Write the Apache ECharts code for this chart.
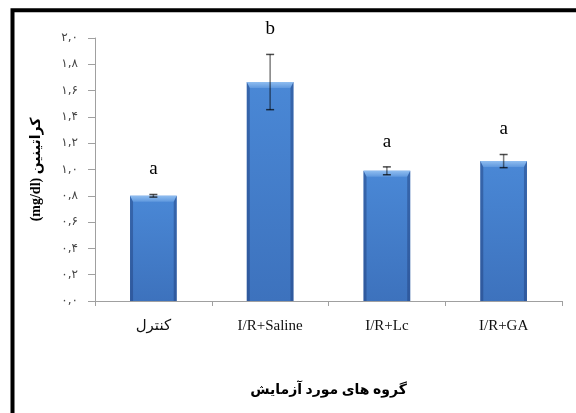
<!DOCTYPE html>
<html>
<head>
<meta charset="utf-8">
<script src="https://cdn.jsdelivr.net/npm/echarts@6/dist/echarts.min.js"></script>
<style>
html,body{margin:0;padding:0;background:#fff;}
#c{width:576px;height:413px;}
</style>
</head>
<body>
<div id="c"></div>
<script>
const categories = ["کنترل", "I/R+Saline", "I/R+Lc", "I/R+GA"];
const values = [0.80, 1.665, 0.99, 1.064];
const errors = [0.01, 0.21, 0.03, 0.05];
const letters = ["a", "b", "a", "a"];
const yTickLabels = ["۰,۰", "۰,۲", "۰,۴", "۰,۶", "۰,۸", "۱,۰", "۱,۲", "۱,۴", "۱,۶", "۱,۸", "۲,۰"];
const yAxisTitle = "(mg/dl) کراتینین";
const xAxisTitle = "گروه های مورد آزمایش";

const chart = echarts.init(document.getElementById('c'));
const serif = "'Liberation Serif', 'Times New Roman', 'DejaVu Serif', 'DejaVu Sans', serif";

const overlayData = values.map((v, i) => [i, v, errors[i]]);

chart.setOption({
  animation: false,
  backgroundColor: '#fff',
  grid: { left: 95, right: 14, top: 38, bottom: 112, containLabel: false },
  graphic: [{
    type: 'rect',
    shape: { x: 12.5, y: 10.3, width: 700, height: 600 },
    style: { fill: 'none', stroke: '#000', lineWidth: 4 },
    z: 100
  }],
  xAxis: {
    type: 'category',
    data: categories,
    name: xAxisTitle,
    nameLocation: 'middle',
    nameGap: 82,
    nameTextStyle: { fontFamily: serif, fontWeight: 'bold', fontSize: 14, color: '#000' },
    axisLine: { lineStyle: { color: '#a0a0a0', width: 1 } },
    axisTick: { show: true, length: 5, lineStyle: { color: '#a0a0a0' } },
    axisLabel: { fontFamily: serif, fontSize: 15, color: '#111', margin: 18 },
    splitLine: { show: false }
  },
  yAxis: {
    type: 'value',
    min: 0, max: 2, interval: 0.2,
    name: yAxisTitle,
    nameLocation: 'middle',
    nameRotate: 90,
    nameGap: 52,
    nameTextStyle: { fontFamily: serif, fontWeight: 'bold', fontSize: 14, color: '#000' },
    axisLine: { show: true, lineStyle: { color: '#a0a0a0', width: 1 } },
    axisTick: { show: true, length: 7, inside: false, lineStyle: { color: '#a0a0a0' } },
    axisLabel: {
      fontFamily: "'DejaVu Sans', sans-serif", fontSize: 12, color: '#444', margin: 17,
      formatter: function (v) { return yTickLabels[Math.round(v / 0.2)]; }
    },
    splitLine: { show: false }
  },
  series: [
    {
      type: 'bar',
      data: values,
      barWidth: '40%',
      itemStyle: {
        color: new echarts.graphic.LinearGradient(0, 0, 0, 1, [
          { offset: 0, color: '#4a88d6' },
          { offset: 1, color: '#3d72bd' }
        ])
      },
      z: 2
    },
    {
      type: 'custom',
      data: overlayData,
      z: 5,
      renderItem: function (params, api) {
        const idx = api.value(0), v = api.value(1), e = api.value(2);
        const top = api.coord([idx, v]);
        const base = api.coord([idx, 0]);
        const w = api.size([1, 0])[0] * 0.4;
        const x0 = top[0] - w / 2, x1 = top[0] + w / 2;
        const yT = top[1], yB = base[1];
        const hi = api.coord([idx, v + e]);
        const lo = api.coord([idx, v - e]);
        const cap = 4;
        const s = 3, b = 6;
        return {
          type: 'group',
          children: [
            { type: 'polygon', shape: { points: [[x0, yT], [x1, yT], [x1 - s, yT + b], [x0 + s, yT + b]] },
              style: { fill: new echarts.graphic.LinearGradient(0, 0, 0, 1, [
                { offset: 0, color: '#8fbdf0' }, { offset: 1, color: '#5f98de' }]) } },
            { type: 'polygon', shape: { points: [[x0, yT], [x0 + s, yT + b], [x0 + s, yB], [x0, yB]] },
              style: { fill: 'rgba(30,60,120,0.45)' } },
            { type: 'polygon', shape: { points: [[x1, yT], [x1 - s, yT + b], [x1 - s, yB], [x1, yB]] },
              style: { fill: 'rgba(30,60,120,0.45)' } },
            { type: 'line', shape: { x1: top[0], y1: hi[1], x2: top[0], y2: lo[1] },
              style: { stroke: 'rgba(0,0,0,0.5)', lineWidth: 1.5 } },
            { type: 'line', shape: { x1: top[0] - cap, y1: hi[1], x2: top[0] + cap, y2: hi[1] },
              style: { stroke: 'rgba(0,0,0,0.7)', lineWidth: 1.5 } },
            { type: 'line', shape: { x1: top[0] - cap, y1: lo[1], x2: top[0] + cap, y2: lo[1] },
              style: { stroke: 'rgba(0,0,0,0.7)', lineWidth: 1.5 } },
            { type: 'text', x: top[0], y: hi[1] - 25,
              style: { text: letters[params.dataIndex], fontFamily: serif, fontSize: 19,
                fill: '#000', align: 'center', verticalAlign: 'middle' } }
          ]
        };
      }
    }
  ]
});
</script>
</body>
</html>
